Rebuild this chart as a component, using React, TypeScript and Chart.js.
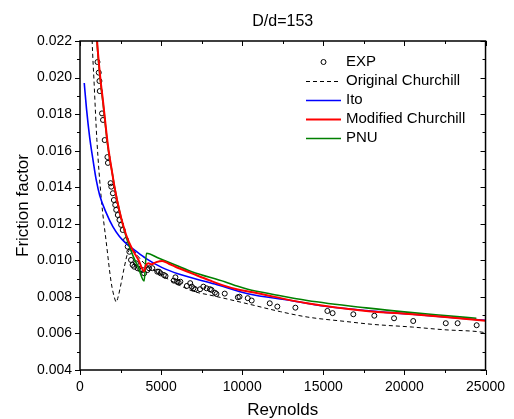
import React, { useEffect, useRef } from 'react';
import { Chart, registerables } from 'chart.js';

Chart.register(...registerables);

const TITLE = 'D/d=153';
const X_LABEL = 'Reynolds';
const Y_LABEL = 'Friction factor';
const X_TICKS = [0, 5000, 10000, 15000, 20000, 25000];
const Y_TICKS = [0.004, 0.006, 0.008, 0.01, 0.012, 0.014, 0.016, 0.018, 0.02, 0.022];

const expRe = [1077, 1156, 1198, 1217, 1356, 1417, 1521, 1690, 1721, 1886, 1928, 2026, 2086, 2172, 2232, 2330, 2433, 2536, 2634, 2840, 2938, 3041, 3145, 3242, 3345, 3449, 3546, 3710, 3850, 3954, 4157, 4258, 4459, 4763, 4866, 4968, 5170, 5272, 5779, 5882, 5980, 6083, 6186, 6588, 6794, 6892, 6995, 7099, 7403, 7603, 7804, 8011, 8108, 8315, 8412, 8923, 9732, 9834, 10341, 10584, 11697, 12165, 13279, 15250, 15572, 16849, 18145, 19361, 20541, 22549, 23279, 24453];
const expF = [0.02085, 0.02027, 0.01981, 0.01926, 0.01804, 0.01768, 0.01658, 0.01565, 0.01533, 0.01422, 0.01403, 0.01367, 0.0133, 0.01303, 0.01276, 0.01248, 0.01221, 0.01194, 0.01166, 0.01111, 0.01075, 0.01047, 0.01002, 0.00975, 0.00965, 0.00984, 0.00957, 0.00951, 0.00947, 0.00929, 0.00947, 0.00957, 0.00957, 0.00938, 0.00938, 0.00929, 0.0092, 0.00914, 0.00889, 0.00907, 0.00883, 0.00878, 0.00883, 0.0086, 0.00875, 0.00856, 0.00847, 0.00842, 0.00842, 0.00856, 0.00847, 0.00842, 0.00838, 0.00823, 0.00816, 0.00818, 0.00798, 0.00801, 0.00793, 0.0078, 0.00765, 0.00747, 0.00741, 0.00723, 0.00711, 0.00705, 0.00697, 0.00683, 0.00668, 0.00656, 0.00656, 0.00645];

const churchillRe = [700, 750, 870, 1040, 1320, 1624, 1928, 2129, 2232, 2350, 2536, 2737, 2938, 3150, 3350, 3600, 4000, 4500, 5000, 6000, 7000, 8000, 9000, 10341, 12367, 14000, 16423, 18000, 20481, 22500, 24532, 25000];
const churchillF = [0.0236, 0.022, 0.0197, 0.0166, 0.0133, 0.01095, 0.00876, 0.00794, 0.00772, 0.008, 0.00875, 0.00965, 0.01039, 0.01062, 0.0105, 0.0102, 0.0098, 0.0095, 0.0092, 0.0087, 0.0083, 0.0081, 0.0079, 0.00762, 0.00719, 0.0069, 0.00665, 0.0065, 0.00635, 0.0062, 0.0061, 0.00604];

const itoRe = [262, 400, 600, 800, 1000, 1217, 1624, 2026, 2433, 2938, 3345, 4056, 5067, 6083, 8315, 10341, 13000, 15000, 17640, 20481, 22500, 25000];
const itoF = [0.0197, 0.0183, 0.0167, 0.0155, 0.0144, 0.01355, 0.01258, 0.01184, 0.0113, 0.01084, 0.01057, 0.01011, 0.0096, 0.00925, 0.0087, 0.00817, 0.0078, 0.0075, 0.00725, 0.00705, 0.0069, 0.00672];

const modRe = [960, 1054, 1250, 1420, 1720, 2000, 2130, 2433, 2840, 3244, 3600, 3954, 4050, 4217, 4400, 4700, 5068, 5500, 5882, 6892, 8000, 8923, 9732, 10949, 12000, 14000, 17640, 20481, 22500, 25000];
const modF = [0.0235, 0.022, 0.02, 0.0187, 0.0163, 0.0147, 0.014, 0.0127, 0.0114, 0.01057, 0.01003, 0.0094, 0.0097, 0.00984, 0.00978, 0.0099, 0.00997, 0.0098, 0.00965, 0.00929, 0.0089, 0.0086, 0.0084, 0.0082, 0.008, 0.00765, 0.00723, 0.00705, 0.0069, 0.0067];

const pnuRe = [970, 1054, 1250, 1420, 1720, 2000, 2130, 2433, 2840, 3244, 3600, 3954, 4096, 4866, 5882, 6892, 8923, 9732, 10341, 12000, 14000, 17640, 20481, 22500, 24434];
const pnuF = [0.0234, 0.0219, 0.0199, 0.0186, 0.0162, 0.0147, 0.014, 0.0127, 0.0113, 0.0103, 0.0096, 0.00887, 0.01039, 0.01011, 0.00975, 0.00938, 0.00883, 0.00858, 0.00842, 0.00812, 0.0078, 0.0074, 0.00714, 0.00698, 0.00683];

const FONT = "'Liberation Sans', Arial, sans-serif";

const pts = (xs: number[], ys: number[]) => xs.map((x, i) => ({ x, y: ys[i] }));

export default function App() {
  const ref = useRef<HTMLCanvasElement>(null);

  useEffect(() => {
    const frame = {
      id: 'frame',
      afterDraw(chart: any) {
        const { ctx, chartArea: a, scales } = chart;
        const xs = scales.x;
        const ys = scales.y;
        ctx.save();
        // title
        ctx.fillStyle = '#000';
        ctx.font = `16px ${FONT}`;
        ctx.textAlign = 'center';
        ctx.textBaseline = 'middle';
        ctx.fillText(TITLE, (a.left + a.right) / 2, 21.5);

        // border
        ctx.strokeStyle = '#000';
        ctx.lineWidth = 1.5;
        ctx.strokeRect(a.left, a.top, a.right - a.left, a.bottom - a.top);

        // ticks
        ctx.lineWidth = 1;
        ctx.beginPath();
        const xMinor: number[] = [];
        for (let i = 0; i < X_TICKS.length - 1; i++) xMinor.push((X_TICKS[i] + X_TICKS[i + 1]) / 2);
        const yMinor: number[] = [];
        for (let i = 0; i < Y_TICKS.length - 1; i++) yMinor.push((Y_TICKS[i] + Y_TICKS[i + 1]) / 2);
        const xt = (v: number, len: number) => {
          const p = Math.round(xs.getPixelForValue(v)) + 0.5;
          ctx.moveTo(p, a.bottom); ctx.lineTo(p, a.bottom + len);
          ctx.moveTo(p, a.top); ctx.lineTo(p, a.top + len);
        };
        const yt = (v: number, len: number) => {
          const p = Math.round(ys.getPixelForValue(v)) + 0.5;
          ctx.moveTo(a.left, p); ctx.lineTo(a.left - len, p);
          ctx.moveTo(a.right, p); ctx.lineTo(a.right - len, p);
        };
        X_TICKS.forEach(v => xt(v, 5));
        xMinor.forEach(v => xt(v, 3));
        Y_TICKS.forEach(v => yt(v, 5));
        yMinor.forEach(v => yt(v, 3));
        ctx.stroke();

        // legend
        const lx0 = a.left + 226;
        const lx1 = a.left + 261;
        const tx = a.left + 266;
        ctx.font = `15px ${FONT}`;
        ctx.textAlign = 'left';
        ctx.textBaseline = 'middle';
        chart.data.datasets.forEach((ds: any, i: number) => {
          const y = a.top + 21 + i * 19;
          if (ds.showLine === false) {
            ctx.beginPath();
            ctx.strokeStyle = ds.borderColor;
            ctx.lineWidth = 1;
            ctx.arc((lx0 + lx1) / 2, y, 2.5, 0, Math.PI * 2);
            ctx.stroke();
          } else {
            ctx.beginPath();
            ctx.strokeStyle = ds.borderColor;
            ctx.lineWidth = ds.borderWidth;
            ctx.setLineDash(ds.borderDash || []);
            ctx.moveTo(lx0, y + 0.5);
            ctx.lineTo(lx1, y + 0.5);
            ctx.stroke();
            ctx.setLineDash([]);
          }
          ctx.fillStyle = '#000';
          ctx.fillText(ds.label, tx, y);
        });
        ctx.restore();
      },
    };

    const lineDs = (label: string, xs: number[], ys: number[], color: string, width: number, order: number, dash?: number[]) => ({
      label,
      data: pts(xs, ys),
      borderColor: color,
      backgroundColor: color,
      borderWidth: width,
      borderDash: dash || [],
      pointRadius: 0,
      showLine: true,
      fill: false,
      cubicInterpolationMode: 'monotone' as const,
      order,
    });

    const chart = new Chart(ref.current as HTMLCanvasElement, {
      type: 'line',
      data: {
        datasets: [
          {
            label: 'EXP',
            data: pts(expRe, expF),
            showLine: false,
            borderColor: '#000',
            backgroundColor: 'rgba(0,0,0,0)',
            pointRadius: 2.5,
            pointBorderWidth: 1,
            pointStyle: 'circle',
            order: 4,
          } as any,
          lineDs('Original Churchill', churchillRe, churchillF, '#000000', 1, 3, [4, 3]),
          lineDs('Ito', itoRe, itoF, '#0000ff', 1.6, 2),
          lineDs('Modified Churchill', modRe, modF, '#ff0000', 2, 0),
          lineDs('PNU', pnuRe, pnuF, '#008000', 1.6, 1),
        ],
      },
      options: {
        responsive: false,
        animation: false,
        events: [],
        layout: { padding: { top: 41, right: 23, left: 0, bottom: 0 } },
        plugins: {
          legend: { display: false },
          tooltip: { enabled: false },
          title: { display: false },
        },
        scales: {
          x: {
            type: 'linear',
            min: X_TICKS[0],
            max: X_TICKS[X_TICKS.length - 1],
            afterFit: (s: any) => { s.height = 49; },
            afterBuildTicks: (s: any) => { s.ticks = X_TICKS.map(v => ({ value: v })); },
            grid: { display: false, drawTicks: false },
            border: { display: false },
            ticks: {
              padding: 9,
              color: '#000',
              maxRotation: 0,
              autoSkip: false,
              font: { family: FONT, size: 14 },
              callback: (v: any) => String(v),
            },
            title: {
              display: true,
              text: X_LABEL,
              color: '#000',
              font: { family: FONT, size: 17, lineHeight: 1 },
              padding: 0,
            },
          },
          y: {
            type: 'linear',
            min: Y_TICKS[0],
            max: Y_TICKS[Y_TICKS.length - 1],
            afterFit: (s: any) => { s.width = 80; },
            afterBuildTicks: (s: any) => { s.ticks = Y_TICKS.map(v => ({ value: v })); },
            grid: { display: false, drawTicks: false },
            border: { display: false },
            ticks: {
              padding: 8,
              color: '#000',
              autoSkip: false,
              font: { family: FONT, size: 14 },
              callback: (v: any) => Number(v).toFixed(3),
            },
            title: {
              display: true,
              text: Y_LABEL,
              color: '#000',
              font: { family: FONT, size: 17 },
              padding: { top: 13, bottom: 0 },
            },
          },
        },
      } as any,
      plugins: [frame],
    });
    return () => chart.destroy();
  }, []);

  return (
    <div style={{ position: 'fixed', left: 0, top: 0, width: 514, height: 419, background: '#fff' }}>
      <canvas ref={ref} width={514} height={419} style={{ display: 'block' }} />
    </div>
  );
}
